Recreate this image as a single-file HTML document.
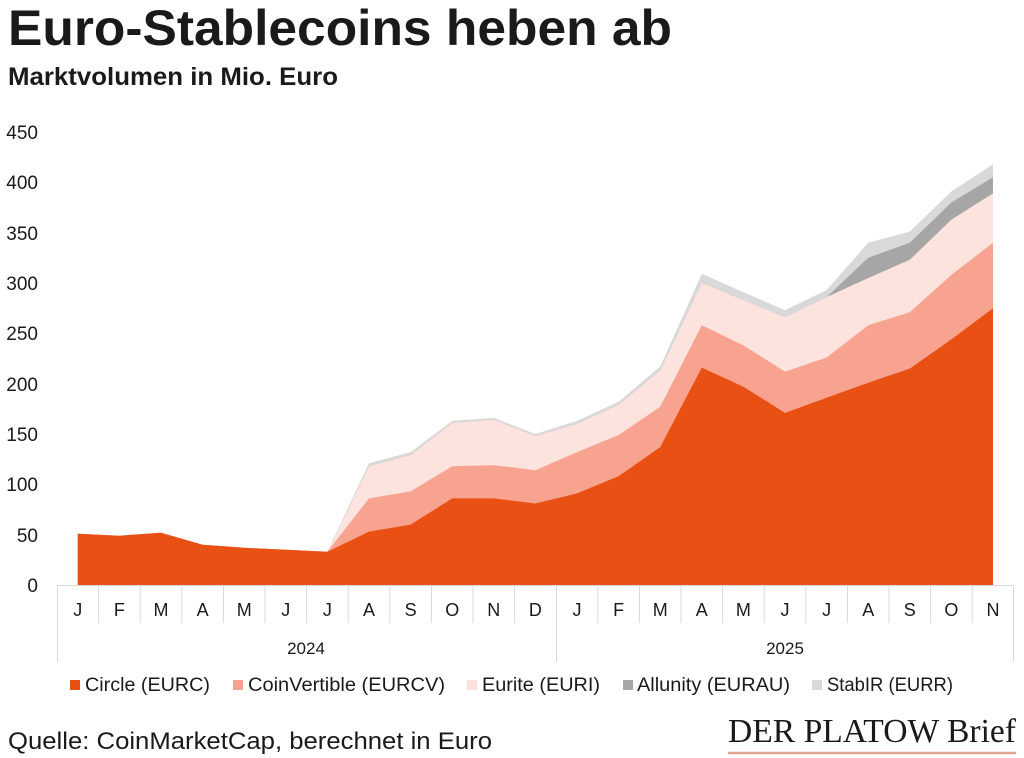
<!DOCTYPE html>
<html>
<head>
<meta charset="utf-8">
<style>
  html,body{margin:0;padding:0;background:#fff;}
  body{width:1024px;height:758px;overflow:hidden;}
  svg{display:block;}
  text{font-family:"Liberation Sans",Arial,sans-serif;fill:#1a1a1a;}
</style>
</head>
<body>
<svg width="1024" height="758" viewBox="0 0 1024 758" xmlns="http://www.w3.org/2000/svg">
  <rect x="0" y="0" width="1024" height="758" fill="#fff"/>

  <!-- Title -->
  <text x="8" y="45" font-size="50" font-weight="bold" textLength="664" lengthAdjust="spacingAndGlyphs" fill="#000">Euro-Stablecoins heben ab</text>
  <text x="8" y="85" font-size="25" font-weight="bold" textLength="330" lengthAdjust="spacingAndGlyphs" fill="#000">Marktvolumen in Mio. Euro</text>

  <!-- Y axis labels -->
  <g font-size="19" text-anchor="end">
    <text x="38" y="139">450</text>
    <text x="38" y="189">400</text>
    <text x="38" y="240">350</text>
    <text x="38" y="290">300</text>
    <text x="38" y="340">250</text>
    <text x="38" y="391">200</text>
    <text x="38" y="441">150</text>
    <text x="38" y="491">100</text>
    <text x="38" y="542">50</text>
    <text x="38" y="592">0</text>
  </g>

  <!-- Areas (cumulative, back to front) -->
  <!-- StabIR -->
  <polygon fill="#D9D9D9" points="77.8,533.7 119.4,535.7 161,532.7 202.6,544.7 244.2,547.8 285.8,549.8 327.4,551.8 369,463.2 410.6,452.1 452.2,420.9 493.8,417.9 535.4,434 577,420.9 618.6,401.8 660.2,366.5 701.8,273.9 743.4,292.1 785,310.2 826.6,290 868.2,242.7 909.8,231.6 951.4,191.4 993,164.2 993,585 77.8,585"/>
  <!-- Allunity -->
  <polygon fill="#A6A6A6" points="77.8,533.7 119.4,535.7 161,532.7 202.6,544.7 244.2,547.8 285.8,549.8 327.4,551.8 369,466.2 410.6,455.1 452.2,422.9 493.8,419.9 535.4,436 577,423.9 618.6,404.8 660.2,370.6 701.8,283 743.4,300.1 785,317.2 826.6,297.1 868.2,257.8 909.8,242.7 951.4,202.5 993,177.3 993,585 77.8,585"/>
  <!-- Eurite -->
  <polygon fill="#FCE3DD" points="77.8,533.7 119.4,535.7 161,532.7 202.6,544.7 244.2,547.8 285.8,549.8 327.4,551.8 369,466.2 410.6,455.1 452.2,422.9 493.8,419.9 535.4,436 577,423.9 618.6,404.8 660.2,370.6 701.8,283 743.4,300.1 785,317.2 826.6,297.1 868.2,278 909.8,259.8 951.4,219.6 993,193.4 993,585 77.8,585"/>
  <!-- CoinVertible -->
  <polygon fill="#F8A390" points="77.8,533.7 119.4,535.7 161,532.7 202.6,544.7 244.2,547.8 285.8,549.8 327.4,551.8 369,498.4 410.6,491.4 452.2,466.2 493.8,465.2 535.4,470.2 577,452.1 618.6,435 660.2,406.8 701.8,325.3 743.4,345.4 785,371.6 826.6,357.5 868.2,325.3 909.8,312.2 951.4,274.9 993,242.7 993,585 77.8,585"/>
  <!-- Circle -->
  <polygon fill="#E95014" points="77.8,533.7 119.4,535.7 161,532.7 202.6,544.7 244.2,547.8 285.8,549.8 327.4,551.8 369,531.6 410.6,524.6 452.2,498.4 493.8,498.4 535.4,503.5 577,493.4 618.6,476.3 660.2,447.1 701.8,367.6 743.4,386.7 785,412.9 826.6,397.8 868.2,382.7 909.8,368.6 951.4,339.4 993,308.2 993,585 77.8,585"/>

  <!-- Axis lines -->
  <g stroke="#D9D9D9" stroke-width="1" fill="none">
    <line x1="57" y1="585.5" x2="1014" y2="585.5"/>
    <line x1="57.5" y1="585" x2="57.5" y2="662"/>
    <line x1="556.5" y1="585" x2="556.5" y2="662"/>
    <line x1="1013.5" y1="585" x2="1013.5" y2="662"/>
    <line x1="98.6" y1="585" x2="98.6" y2="623"/>
    <line x1="140.2" y1="585" x2="140.2" y2="623"/>
    <line x1="181.8" y1="585" x2="181.8" y2="623"/>
    <line x1="223.4" y1="585" x2="223.4" y2="623"/>
    <line x1="265" y1="585" x2="265" y2="623"/>
    <line x1="306.6" y1="585" x2="306.6" y2="623"/>
    <line x1="348.2" y1="585" x2="348.2" y2="623"/>
    <line x1="389.8" y1="585" x2="389.8" y2="623"/>
    <line x1="431.4" y1="585" x2="431.4" y2="623"/>
    <line x1="473" y1="585" x2="473" y2="623"/>
    <line x1="514.6" y1="585" x2="514.6" y2="623"/>
    <line x1="597.8" y1="585" x2="597.8" y2="623"/>
    <line x1="639.4" y1="585" x2="639.4" y2="623"/>
    <line x1="681" y1="585" x2="681" y2="623"/>
    <line x1="722.6" y1="585" x2="722.6" y2="623"/>
    <line x1="764.2" y1="585" x2="764.2" y2="623"/>
    <line x1="805.8" y1="585" x2="805.8" y2="623"/>
    <line x1="847.4" y1="585" x2="847.4" y2="623"/>
    <line x1="889" y1="585" x2="889" y2="623"/>
    <line x1="930.6" y1="585" x2="930.6" y2="623"/>
    <line x1="972.2" y1="585" x2="972.2" y2="623"/>
  </g>

  <!-- Month labels -->
  <g font-size="18" text-anchor="middle">
    <text x="77.8" y="616">J</text>
    <text x="119.4" y="616">F</text>
    <text x="161" y="616">M</text>
    <text x="202.6" y="616">A</text>
    <text x="244.2" y="616">M</text>
    <text x="285.8" y="616">J</text>
    <text x="327.4" y="616">J</text>
    <text x="369" y="616">A</text>
    <text x="410.6" y="616">S</text>
    <text x="452.2" y="616">O</text>
    <text x="493.8" y="616">N</text>
    <text x="535.4" y="616">D</text>
    <text x="577" y="616">J</text>
    <text x="618.6" y="616">F</text>
    <text x="660.2" y="616">M</text>
    <text x="701.8" y="616">A</text>
    <text x="743.4" y="616">M</text>
    <text x="785" y="616">J</text>
    <text x="826.6" y="616">J</text>
    <text x="868.2" y="616">A</text>
    <text x="909.8" y="616">S</text>
    <text x="951.4" y="616">O</text>
    <text x="993" y="616">N</text>
  </g>

  <!-- Year labels -->
  <g font-size="17" text-anchor="middle">
    <text x="306" y="654">2024</text>
    <text x="785" y="654">2025</text>
  </g>

  <!-- Legend -->
  <g font-size="19">
    <rect x="70" y="680" width="10" height="10" fill="#E95014"/>
    <text x="85" y="691" textLength="125" lengthAdjust="spacingAndGlyphs">Circle (EURC)</text>
    <rect x="233" y="680" width="10" height="10" fill="#F8A390"/>
    <text x="248" y="691" textLength="197" lengthAdjust="spacingAndGlyphs">CoinVertible (EURCV)</text>
    <rect x="467" y="680" width="10" height="10" fill="#FCE3DD"/>
    <text x="482" y="691" textLength="118" lengthAdjust="spacingAndGlyphs">Eurite (EURI)</text>
    <rect x="623" y="680" width="10" height="10" fill="#A6A6A6"/>
    <text x="637" y="691" textLength="153" lengthAdjust="spacingAndGlyphs">Allunity (EURAU)</text>
    <rect x="812" y="680" width="10" height="10" fill="#D9D9D9"/>
    <text x="827" y="691" textLength="126" lengthAdjust="spacingAndGlyphs">StabIR (EURR)</text>
  </g>

  <!-- Footer -->
  <text x="8" y="749" font-size="24" textLength="484" lengthAdjust="spacingAndGlyphs" fill="#000">Quelle: CoinMarketCap, berechnet in Euro</text>
  <text x="728" y="742" font-size="34" textLength="288" lengthAdjust="spacingAndGlyphs" style="font-family:'Liberation Serif','Times New Roman',serif;" fill="#111">DER PLATOW Brief</text>
  <line x1="728" y1="753" x2="1016" y2="753" stroke="#E2A88F" stroke-width="2.5"/>
</svg>
</body>
</html>
